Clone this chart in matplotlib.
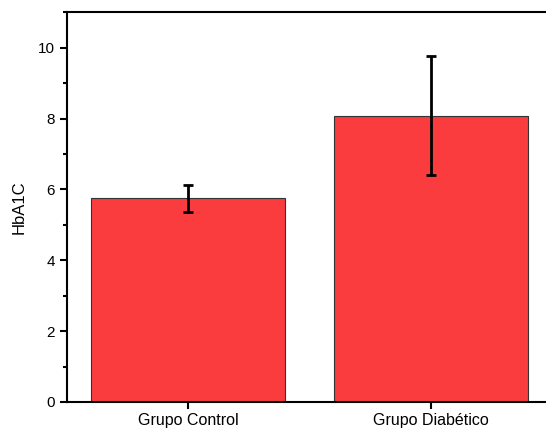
import matplotlib
matplotlib.use("Agg")
import matplotlib.pyplot as plt
from matplotlib.ticker import MultipleLocator

categories = ["Grupo Control", "Grupo Diabético"]
means = [5.75, 8.08]
errors = [0.38, 1.68]

plt.rcParams['font.family'] = ['Liberation Sans', 'DejaVu Sans']

fig = plt.figure(figsize=(5.46, 4.33), dpi=100)
ax = fig.add_axes([0.1222, 0.0716, 1.011 - 0.1222, 0.9716 - 0.0716])

x = range(len(categories))
ax.bar(x, means, width=0.8, color='#FA3C3E', edgecolor='#333333', linewidth=0.8, zorder=2)
ax.errorbar(x, means, yerr=errors, fmt='none', ecolor='black', elinewidth=2,
            capsize=3.5, capthick=2, zorder=3)

ax.set_xlim(-0.5, 1.5)
ax.set_ylim(0, 11)
ax.set_xticks(list(x))
ax.set_xticklabels(categories, fontsize=11.5)
ax.yaxis.set_major_locator(MultipleLocator(2))
ax.yaxis.set_minor_locator(MultipleLocator(1))
ax.tick_params(axis='y', which='major', direction='out', length=5, width=1.5, labelsize=11)
ax.tick_params(axis='y', which='minor', direction='out', length=3, width=1.5)
ax.tick_params(axis='x', which='major', direction='out', length=5, width=1.5, labelsize=11.5, pad=3)
ax.set_ylabel("HbA1C", fontsize=12, labelpad=8)
for s in ax.spines.values():
    s.set_linewidth(1.5)

fig.savefig("out.png", dpi=100)
